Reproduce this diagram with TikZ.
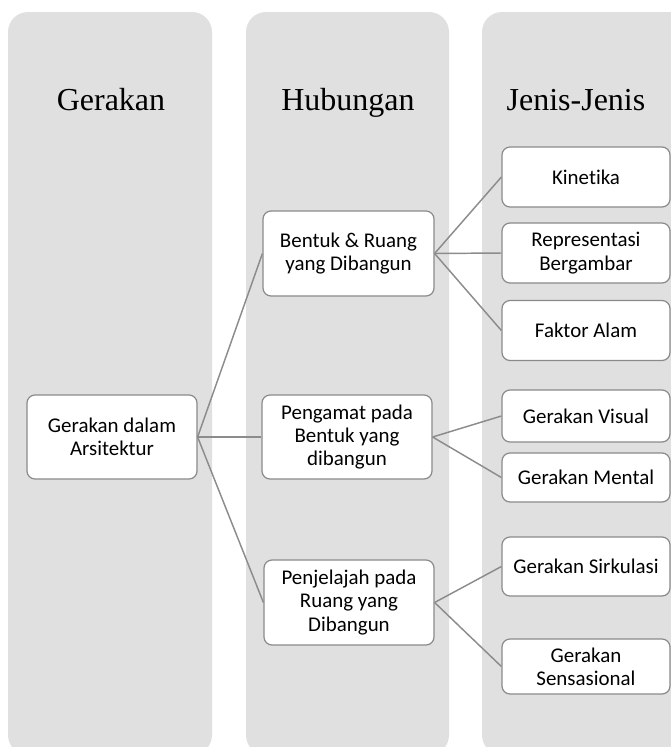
\documentclass[tikz,border=0pt]{standalone}
\usepackage{fontspec}
\setmainfont{Liberation Serif}
\newfontfamily\bodyfont[Ligatures=NoCommon]{Carlito}
\definecolor{panelgray}{HTML}{E0E0E0}
\definecolor{boxborder}{HTML}{8A8A8A}
\definecolor{linkgray}{HTML}{8C8C8C}
\begin{document}
\begin{tikzpicture}[x=0.75pt,y=-0.75pt,
  panel/.style={fill=panelgray,draw=none,rounded corners=15pt},
  title/.style={font=\fontsize{24}{28}\selectfont,anchor=base,inner sep=0pt},
  box/.style 2 args={draw=boxborder,line width=0.9pt,fill=white,rounded corners=6pt,
    minimum width=#1*0.75pt,minimum height=#2*0.75pt,align=center,inner sep=1pt,
    font=\bodyfont\fontsize{15.7}{17.5}\selectfont},
  link/.style={draw=linkgray,line width=1.1pt}]
\useasboundingbox (0,0) rectangle (671,747);
% panels
\fill[panel] (8,12) rectangle (212,755);
\fill[panel] (246,12) rectangle (449,755);
\fill[panel] (482,12) rectangle (700,755);
% titles
\node[title] (t1) at (111,110) {Gerakan};
\node[title] (t2) at (348,110) {Hubungan};
\node[title] (t3) at (576,110) {Jenis-Jenis};
% nodes
\node[box={170}{84}] (root) at (112,437) {Gerakan dalam\\Arsitektur};
\node[box={171}{85}] (bentuk) at (348.5,253.5) {Bentuk \& Ruang\\yang Dibangun};
\node[box={170}{84}] (pengamat) at (347,437) {Pengamat pada\\Bentuk yang\\dibangun};
\node[box={170}{85}] (penjelajah) at (349,602.5) {Penjelajah pada\\Ruang yang\\Dibangun};
\node[box={168}{60}] (kinetika) at (586,177) {Kinetika};
\node[box={168}{60}] (repr) at (586,253) {Representasi\\Bergambar};
\node[box={168}{60}] (faktor) at (586,330.5) {Faktor Alam};
\node[box={168}{52}] (visual) at (586,416) {Gerakan Visual};
\node[box={168}{49}] (mental) at (586,477.5) {Gerakan Mental};
\node[box={168}{59}] (sirkulasi) at (586,566.5) {Gerakan Sirkulasi};
\node[box={168}{55}] (sensasional) at (586,666.5) {Gerakan\\Sensasional};
% connectors
\draw[link] (root.east) -- (bentuk.west);
\draw[link] (root.east) -- (pengamat.west);
\draw[link] (root.east) -- (penjelajah.west);
\draw[link] (bentuk.east) -- (kinetika.west);
\draw[link] (bentuk.east) -- (repr.west);
\draw[link] (bentuk.east) -- (faktor.west);
\draw[link] (pengamat.east) -- (visual.west);
\draw[link] (pengamat.east) -- (mental.west);
\draw[link] (penjelajah.east) -- (sirkulasi.west);
\draw[link] (penjelajah.east) -- (sensasional.west);
\end{tikzpicture}
\end{document}
